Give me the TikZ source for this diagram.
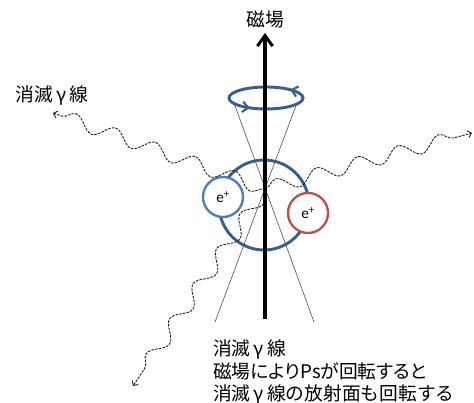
\documentclass[tikz,border=0pt]{standalone}
\usepackage{fontspec}
\newfontfamily\jpfont{Noto Sans CJK JP}
\newfontfamily\jppfont{Noto Sans CJK JP}[RawFeature=+palt]
\newfontfamily\lbfont{Carlito}
\usetikzlibrary{arrows.meta,decorations.pathmorphing,decorations.markings}

\definecolor{psblue}{RGB}{54,95,145}
\definecolor{eblue}{RGB}{74,126,187}
\definecolor{ered}{RGB}{192,80,77}

\newcommand{\gam}{\,γ\,}

\begin{document}
\begin{tikzpicture}[x=0.03cm,y=0.03cm,
    photon/.style={draw=black!90, line width=0.75pt, dash pattern=on 2.2pt off 1pt,
      decorate, decoration={snake, amplitude=6pt, segment length=36pt, post length=4pt},
      -{Straight Barb[length=3pt,width=6pt]}},
    conel/.style={black!70, line width=0.5pt},
    posi/.style={circle, draw, line width=2pt, fill=white, minimum size=1.2cm, inner sep=0pt,
      font=\lbfont\fontsize{13}{15}\selectfont},
    jplabel/.style={font=\jpfont\fontsize{16}{19}\selectfont, inner sep=0pt}]
    \useasboundingbox (0,0) rectangle (474,403);
    % Positions
    \coordinate (ps) at (265,214);
    \coordinate (ring) at (264,198);
    \coordinate (spin) at (266,305);
    \coordinate (tl) at (234,300);
    \coordinate (tr) at (297,300);
    \coordinate (bl) at (215,81);
    \coordinate (br) at (314,81);
    \coordinate (gl) at (53,290);
    \coordinate (gr) at (472,270);
    \coordinate (gd) at (133,17);
    % Ps ring
    \draw[psblue, line width=2.5pt] (ring) circle [radius=45];
    % Precession
    \draw[psblue, line width=2.5pt, postaction={decorate, decoration={markings,
        mark=at position 0.10 with {\arrow{Straight Barb[length=5pt,width=9pt,line width=1.8pt]}},
        mark=at position 0.65 with {\arrow{Straight Barb[length=5pt,width=9pt,line width=1.8pt]}}}}]
      (spin) ellipse [x radius=37, y radius=11];
    % Positrons
    \node[posi, draw=eblue] (eb) at (223,206) {e\textsuperscript{+}};
    \node[posi, draw=ered] (er) at (308,190) {e\textsuperscript{+}};
    % Annihilation gammas
    \draw[photon] (ps) -- (gl);
    \draw[photon] (ps) -- (gr);
    \draw[photon] (ps) -- (gd);
    % Cone
    \draw[conel] (tl) -- (br);
    \draw[conel] (tr) -- (bl);
    % Field
    \draw[line width=3.4pt, -{Straight Barb[length=9pt,width=13pt,line width=2.6pt]}] (265,84) -- (265,370);
    \node[jplabel] (field) at (265,384) {磁場};
    \node[jplabel] (gamma) at (52,307) {消滅\gam 線};
    \node[jplabel, align=left, anchor=north west] (note) at (213,63)
      {消滅\gam 線\\{\jppfont 磁場によりPsが回転すると}\\消滅\gam 線の放射面も回転する};
\end{tikzpicture}
\end{document}
